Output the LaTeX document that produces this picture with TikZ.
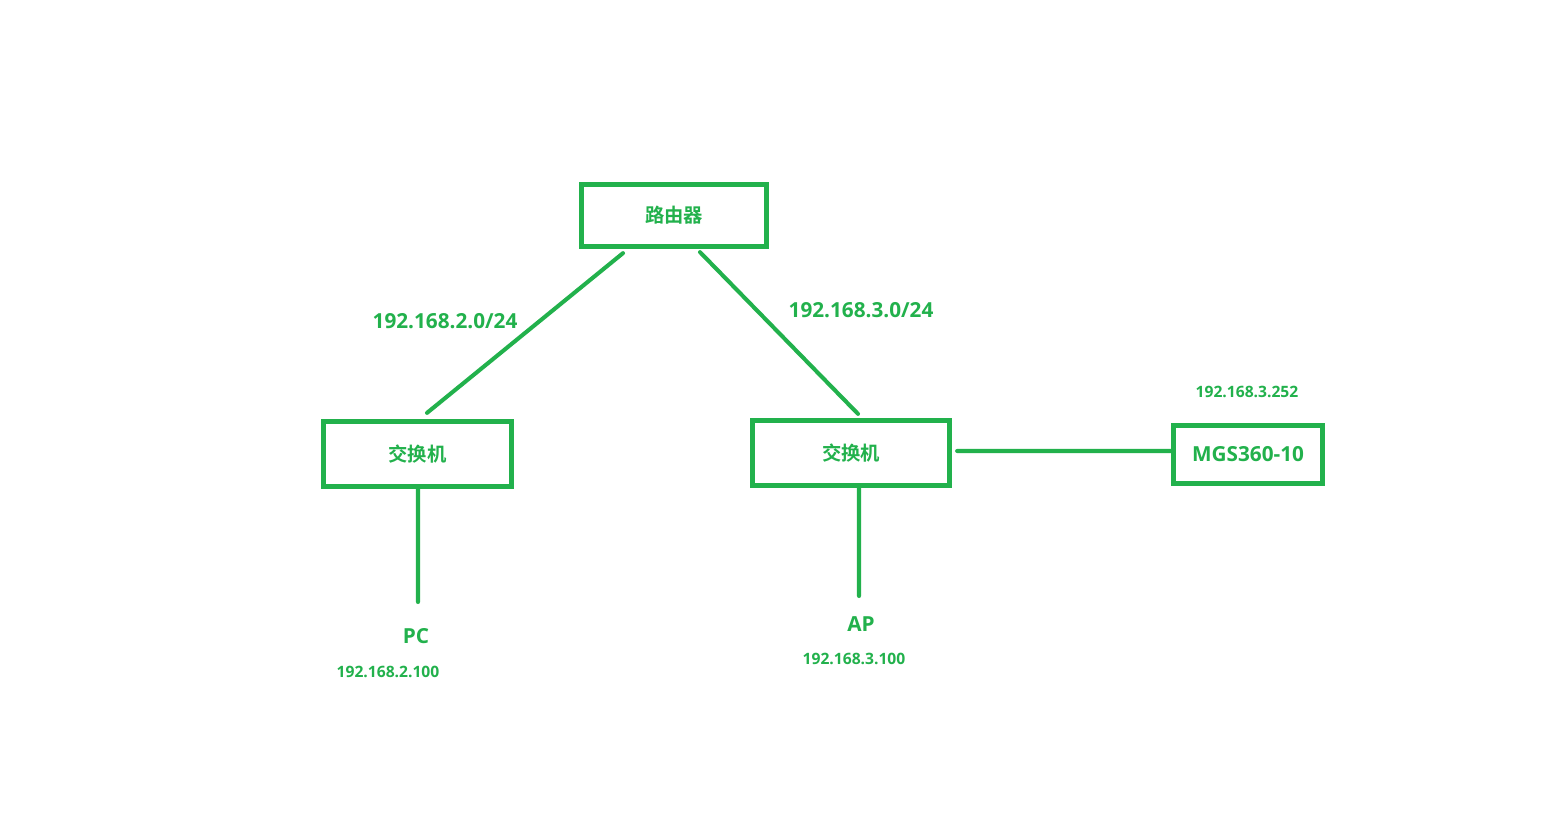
\documentclass[tikz,border=0pt]{standalone}
\usepackage{fontspec}
\setmainfont{Open Sans}
\newfontfamily\cjk{Noto Sans CJK SC Bold}
\usepackage{xcolor}
\usetikzlibrary{positioning}
\definecolor{paintgreen}{HTML}{22B14C}
\tikzset{
    netbox/.style={draw=paintgreen, line width=2.7pt, inner sep=0pt, text=paintgreen},
    cnbox/.style={netbox, font=\cjk\fontsize{11}{13}\selectfont},
    link/.style={draw=paintgreen, line width=2.3pt, line cap=round},
    biglabel/.style={text=paintgreen, inner sep=0pt, font=\bfseries\fontsize{11.8}{14}\selectfont},
    iplabel/.style={text=paintgreen, inner sep=0pt, font=\bfseries\fontsize{8.9}{10}\selectfont}
}
\begin{document}
\begin{tikzpicture}[x=0.02cm, y=-0.02cm]
    \useasboundingbox[fill=white] (0,0) rectangle (1561,822);

    % boxes
    \node[cnbox, minimum width=3.71cm, minimum height=1.25cm] (router) at (674,215.5) {路由器};
    \node[cnbox, minimum width=3.77cm, minimum height=1.31cm] (sw1) at (417.5,454) {交换机};
    \node[cnbox, minimum width=3.95cm, minimum height=1.31cm] (sw2) at (851,453) {交换机};
    \node[netbox, biglabel, draw=paintgreen, minimum width=2.99cm, minimum height=1.17cm] (mgs) at (1248,454.5) {MGS360-10};

    % labels
    \node[biglabel] (net2) at (445,321) {192.168.2.0/24};
    \node[biglabel] (net3) at (861,310) {192.168.3.0/24};
    \node[iplabel] (mgsip) at (1247,392) {192.168.3.252};
    \node[biglabel] (pc) at (416,636) {PC};
    \node[iplabel] (pcip) at (388,672) {192.168.2.100};
    \node[biglabel] (ap) at (861,624) {AP};
    \node[iplabel] (apip) at (854,659) {192.168.3.100};

    \coordinate (pcend) at (418,602);
    \coordinate (apend) at (859,596);

    % links
    \draw[link] ([xshift=-1.02cm,yshift=-0.08cm]router.south) -- ([xshift=0.19cm,yshift=0.12cm]sw1.north);
    \draw[link] ([xshift=0.52cm,yshift=-0.06cm]router.south) -- ([xshift=0.14cm,yshift=0.08cm]sw2.north);
    \draw[link] ([xshift=0.1cm,yshift=0.04cm]sw2.east) -- ([yshift=0.07cm]mgs.west);
    \draw[link] ([xshift=0.01cm]sw1.south) -- (pcend);
    \draw[link] ([xshift=0.16cm]sw2.south) -- (apend);
\end{tikzpicture}
\end{document}
